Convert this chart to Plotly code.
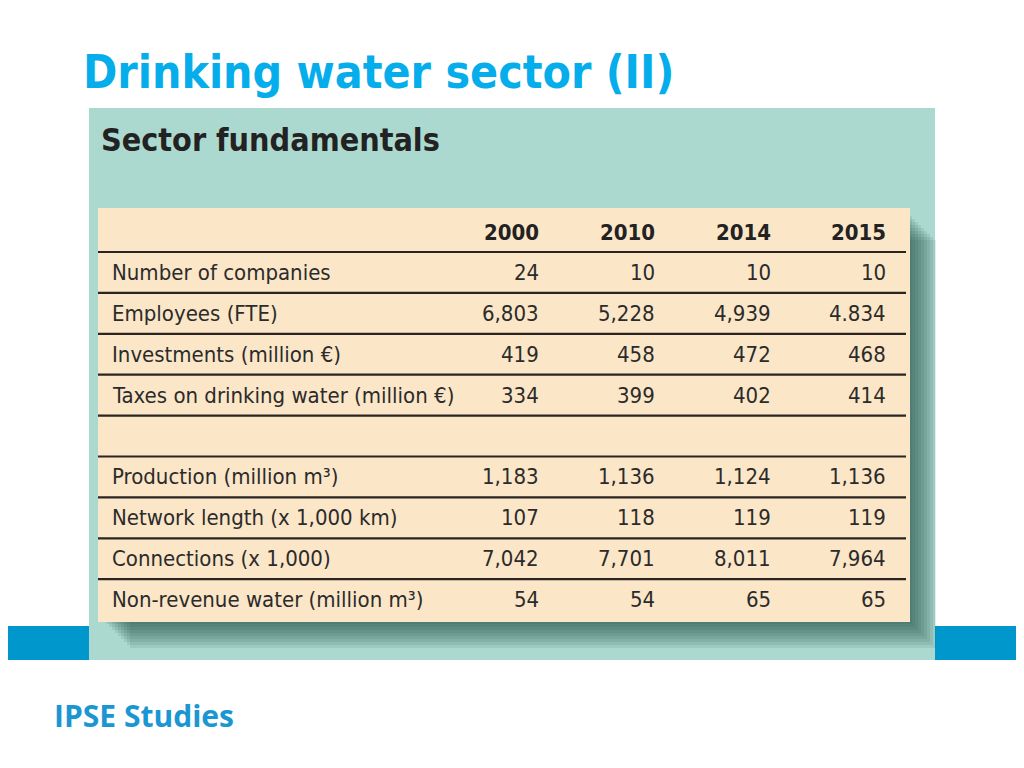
import plotly.graph_objects as go

# ---- data ----
title = "Drinking water sector (II)"
panel_title = "Sector fundamentals"
footer = "IPSE Studies"
years = ["2000", "2010", "2014", "2015"]
row_labels = [
    "Number of companies",
    "Employees (FTE)",
    "Investments (million €)",
    "Taxes on drinking water (million €)",
    "",
    "Production (million m³)",
    "Network length (x 1,000 km)",
    "Connections (x 1,000)",
    "Non-revenue water (million m³)",
]
companies = ["24", "10", "10", "10"]
employees = ["6,803", "5,228", "4,939", "4.834"]
investments = ["419", "458", "472", "468"]
taxes = ["334", "399", "402", "414"]
blank = ["", "", "", ""]
production = ["1,183", "1,136", "1,124", "1,136"]
network = ["107", "118", "119", "119"]
connections = ["7,042", "7,701", "8,011", "7,964"]
nonrevenue = ["54", "54", "65", "65"]
rows = [companies, employees, investments, taxes, blank,
        production, network, connections, nonrevenue]

# ---- layout geometry (pixels of the 1024x768 page) ----
W, H = 1024, 768
OFF = 8  # default body margin of the html page
PANEL = (89, 108, 935, 660)
TABLE = (98, 208, 910, 622)
BAR = (626, 660)
col_right = [541, 657, 773, 888]
label_x = 110
header_y = 232
first_line = 252
pitch = 40.9

NARROW = "DejaVu Sans Condensed, Liberation Sans Narrow, sans-serif"
TEXT = "#2b2b2b"

fig = go.Figure()
shapes = []
annotations = []

# blue band
shapes.append(dict(type="rect", x0=0, x1=W, y0=BAR[0], y1=BAR[1],
                   fillcolor="#0098cc", line_width=0, layer="below"))
# teal panel
shapes.append(dict(type="rect", x0=PANEL[0], x1=PANEL[2], y0=PANEL[1], y1=PANEL[3],
                   fillcolor="#acd9cf", line_width=0, layer="below"))
# shadow layers
for i in range(9):
    d = 2 + i * 3
    shapes.append(dict(type="rect", x0=TABLE[0] + d + 6, x1=TABLE[2] + d,
                       y0=TABLE[1] + d + 6, y1=TABLE[3] + d,
                       fillcolor="rgba(40,80,75,0.11)", line_width=0, layer="below"))
# table
shapes.append(dict(type="rect", x0=TABLE[0], x1=TABLE[2], y0=TABLE[1], y1=TABLE[3],
                   fillcolor="#fbe6c8", line_width=0, layer="below"))

# horizontal rules
n = len(rows)
for i in range(n):
    y = first_line + i * pitch
    shapes.append(dict(type="line", x0=TABLE[0], x1=TABLE[2] - 4, y0=y, y1=y,
                       line=dict(color="#2a2522", width=2.2)))

# header
for j, yr in enumerate(years):
    annotations.append(dict(x=col_right[j], y=header_y, text="<b>%s</b>" % yr,
                            xanchor="right", yanchor="middle", showarrow=False,
                            font=dict(family=NARROW, size=22, color="#222")))
# body
for i, (lab, vals) in enumerate(zip(row_labels, rows)):
    yc = first_line + i * pitch + pitch / 2
    if lab:
        annotations.append(dict(x=label_x, y=yc, text=lab, xanchor="left", yanchor="middle",
                                showarrow=False, font=dict(family=NARROW, size=22, color=TEXT)))
    for j, v in enumerate(vals):
        if v:
            annotations.append(dict(x=col_right[j], y=yc, text=v, xanchor="right",
                                    yanchor="middle", showarrow=False,
                                    font=dict(family=NARROW, size=22, color=TEXT)))

# panel title
annotations.append(dict(x=99, y=140, text="<b>%s</b>" % panel_title, xanchor="left",
                        yanchor="middle", showarrow=False,
                        font=dict(family=NARROW, size=32, color="#222")))
# slide title
annotations.append(dict(x=81, y=72, text="<b>%s</b>" % title, xanchor="left",
                        yanchor="middle", showarrow=False,
                        font=dict(family="DejaVu Sans Condensed, sans-serif", size=46,
                                  color="#05adeb")))
# footer
annotations.append(dict(x=52, y=715, text="<b>%s</b>" % footer, xanchor="left",
                        yanchor="middle", showarrow=False,
                        font=dict(family="Open Sans, sans-serif", size=30, color="#1a96d2")))

fig.update_layout(
    width=W - OFF, height=H - OFF, margin=dict(l=0, r=0, t=0, b=0),
    paper_bgcolor="white", plot_bgcolor="white",
    xaxis=dict(range=[OFF, W], visible=False, fixedrange=True),
    yaxis=dict(range=[H, OFF], visible=False, fixedrange=True),
    shapes=shapes, annotations=annotations, showlegend=False,
)
fig.write_html("out.html", config={"displayModeBar": False})
